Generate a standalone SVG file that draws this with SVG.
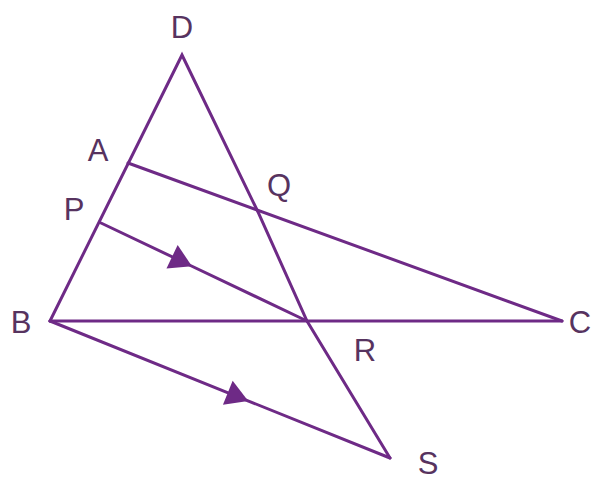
<svg xmlns="http://www.w3.org/2000/svg" width="603" height="485" viewBox="0 0 603 485">
  <defs>
    <style>
      .ln { stroke: #6e2a86; stroke-width: 3; fill: none; stroke-linejoin: miter; stroke-linecap: round; }
      .lbl { font-family: "Liberation Sans", Arial, sans-serif; font-size: 31px; fill: #57335f; text-anchor: middle; dominant-baseline: central; }
    </style>
    <marker id="arr" viewBox="-1 -14 24 28" markerWidth="24" markerHeight="28" refX="11" refY="0" orient="auto" markerUnits="userSpaceOnUse">
      <path d="M0,-13 L22,0 L0,13 z" fill="#6e2a86"/>
    </marker>
  </defs>
  <rect width="603" height="485" fill="#ffffff"/>
  <g id="connectors">
    <polyline class="ln" points="50,321 182,55 258,212 307,321 390,458"/>
    <line class="ln" x1="50" y1="321" x2="562" y2="321"/>
    <line class="ln" x1="128" y1="163" x2="562" y2="321"/>
    <polyline class="ln" points="101,223 182,261.5 307,321" marker-mid="url(#arr)"/>
    <polyline class="ln" points="50,321 238,396.8 390,458" marker-mid="url(#arr)"/>
  </g>
  <g id="D"><text class="lbl" x="182" y="27">D</text></g>
  <g id="A"><text class="lbl" x="98" y="150">A</text></g>
  <g id="P"><text class="lbl" x="74" y="209">P</text></g>
  <g id="Q"><text class="lbl" x="279" y="185">Q</text></g>
  <g id="B"><text class="lbl" x="21" y="322">B</text></g>
  <g id="R"><text class="lbl" x="365" y="350">R</text></g>
  <g id="C"><text class="lbl" x="580" y="322">C</text></g>
  <g id="S"><text class="lbl" x="428" y="463">S</text></g>
</svg>
